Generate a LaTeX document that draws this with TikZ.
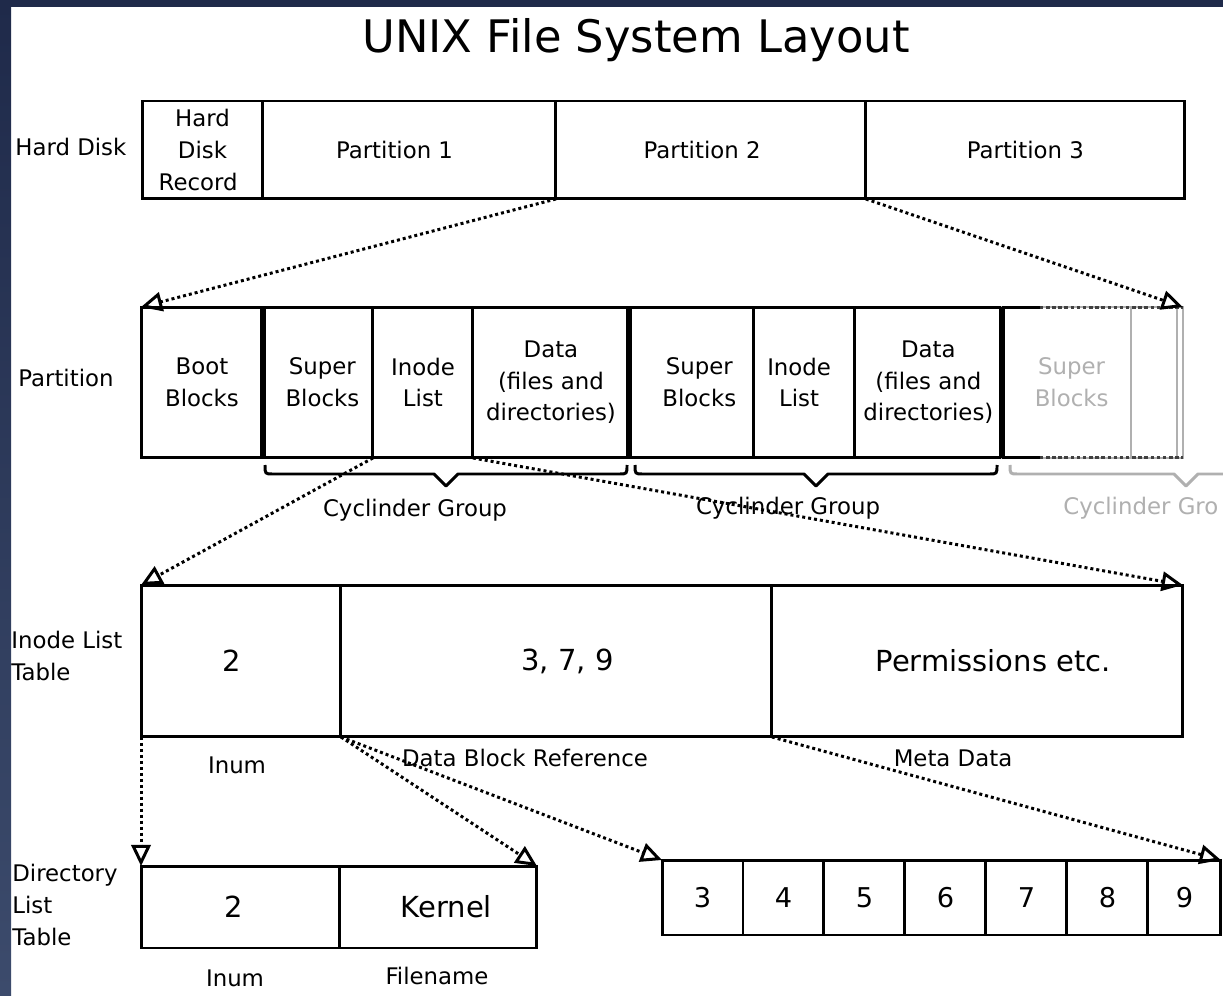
\documentclass[tikz,border=0pt]{standalone}
\usepackage{fontspec}
\setmainfont{DejaVu Sans}
\usetikzlibrary{positioning,arrows.meta,calc}

\definecolor{framedark}{HTML}{1F2A4A}
\definecolor{framelight}{HTML}{3C4B6C}
\definecolor{fadegray}{HTML}{B0B0B0}

\begin{document}
\begin{tikzpicture}[x=0.02cm,y=-0.02cm]

		% Define styles
		\tikzstyle{cell} = [
		rectangle, draw=black, line width=1.7pt, outer sep=0pt,
		inner sep=0pt, align=center, font=\fontsize{13}{18}\selectfont]
		\tikzstyle{diskcell} = [cell, minimum height=1.96cm]
		\tikzstyle{partcell} = [cell, minimum height=3.02cm]
		\tikzstyle{inodecell} = [cell, minimum height=3.04cm,
		font=\fontsize{16.5}{20}\selectfont]
		\tikzstyle{dircell} = [cell, minimum height=1.64cm,
		font=\fontsize{16.5}{20}\selectfont]
		\tikzstyle{blockcell} = [cell, minimum width=1.62cm,
		minimum height=1.5cm, font=\fontsize{15.5}{18}\selectfont]
		\tikzstyle{rowlabel} = [anchor=west, align=left, inner sep=0pt,
		font=\fontsize{13}{18}\selectfont]
		\tikzstyle{caption} = [inner sep=0pt, font=\fontsize{13}{18}\selectfont]
		\tikzstyle{brace} = [line width=1.7pt, line join=round]
		\tikzstyle{pointer} = [line width=1.7pt, dash pattern=on 1.7pt off 1.7pt,
		-{Triangle[open, length=12pt, width=11pt]}]

		% Page and frame
		\useasboundingbox (0,0) rectangle (1223,996);
		\clip (0,0) rectangle (1223,996);
		\fill[white] (0,0) rectangle (1223,996);
		\fill[framedark] (0,0) rectangle (1223,7);
		\shade[top color=framedark, bottom color=framelight] (0,0) rectangle (11,996);

		% Title
		\node (title) [font=\fontsize{25.5}{30}\selectfont] at (636,40) {UNIX File System Layout};

		% Hard disk
		\node (lhd) [rowlabel] at (15,147) {Hard Disk};
		\node (hdr) [diskcell, minimum width=2.42cm] at (202.5,150) {Hard\\Disk\\Record\hspace*{5pt}};
		\node (p1) [diskcell, minimum width=5.86cm, right=0pt of hdr] {Partition 1\hspace*{17pt}};
		\node (p2) [diskcell, minimum width=6.2cm, right=0pt of p1] {Partition 2\hspace*{10pt}};
		\node (p3) [diskcell, minimum width=6.38cm, right=0pt of p2] {Partition 3};

		% Partition
		\node (lpart) [rowlabel] at (18,378) {Partition};
		\node (boot) [partcell, minimum width=2.44cm] at (202,382.5) {Boot\\Blocks};
		\node (sb1) [partcell, minimum width=2.2cm, right=0pt of boot] {\hspace*{5pt}Super\\\hspace*{5pt}Blocks};
		\node (il1) [partcell, minimum width=2.0cm, right=0pt of sb1] {Inode\\List};
		\node (data1) [partcell, minimum width=3.12cm, right=0pt of il1] {Data\\(files and\\directories)};
		\node (sb2) [partcell, minimum width=2.5cm, right=0pt of data1] {\hspace*{9pt}Super\\\hspace*{9pt}Blocks};
		\node (il2) [partcell, minimum width=2.02cm, right=0pt of sb2] {Inode\hspace*{6pt}\\List\hspace*{6pt}};
		\node (data2) [partcell, minimum width=2.94cm, right=0pt of il2] {Data\\(files and\\directories)};
		\node (sb3) [partcell, draw=fadegray, line width=1pt, text=fadegray,
		minimum width=2.58cm, right=0pt of data2] {\hspace*{6pt}Super\\\hspace*{6pt}Blocks};
		\node (rest) [partcell, draw=fadegray, line width=1pt,
		minimum width=1.04cm, right=0pt of sb3] {};

		\draw[line width=3.4pt] (sb1.north west) -- (sb1.south west);
		\draw[line width=3.4pt] (sb2.north west) -- (sb2.south west);
		\draw[line width=3.4pt] (sb3.north west) -- (sb3.south west);
		\draw[fadegray, line width=1pt] ($(rest.north east)+(-6,0)$) -- ($(rest.south east)+(-6,0)$);
		\draw[line width=1.7pt] (sb3.north west) -- ++(38,0);
		\draw[line width=1.7pt] (sb3.south west) -- ++(38,0);
		\draw[line width=1.7pt, black!75, dash pattern=on 2pt off 1.5pt]
		($(sb3.north west)+(38,0)$) -- (rest.north east);
		\draw[line width=1.7pt, black!75, dash pattern=on 2pt off 1.5pt]
		($(sb3.south west)+(38,0)$) -- (rest.south east);

		% Cylinder groups
		\draw[brace] (265,465) .. controls (265,474) .. (273,474) -- (434,474)
		-- (446,486) -- (458,474) -- (619,474) .. controls (627,474) .. (627,465);
		\draw[brace] (635,465) .. controls (635,474) .. (643,474) -- (804,474)
		-- (816,486) -- (828,474) -- (989,474) .. controls (997,474) .. (997,465);
		\draw[brace, fadegray] (1010,465) .. controls (1010,474) .. (1018,474) -- (1174,474)
		-- (1186,486) -- (1198,474) -- (1354,474);
		\node (cg1) [caption] at (415,510) {Cyclinder Group};
		\node (cg2) [caption] at (788,508) {Cyclinder Group};
		\node (cg3) [caption, text=fadegray, anchor=west] at (1063,508) {Cyclinder Gro};

		% Inode list table
		\node (linode) [rowlabel] at (11,656) {Inode List\\Table};
		\node (inum) [inodecell, minimum width=4.0cm] at (241,661) {2\hspace*{10pt}};
		\node (dbr) [inodecell, minimum width=8.62cm, right=0pt of inum] {\hspace*{12.5pt}3, 7, 9};
		\node (meta) [inodecell, minimum width=8.22cm, right=0pt of dbr] {\hspace*{18pt}Permissions etc.};
		\node (cinum) [caption] at (237,765) {Inum};
		\node (cdbr) [caption] at (525,758) {Data Block Reference};
		\node (cmeta) [caption] at (953,758) {Meta Data};

		% Directory list table
		\node (ldir) [rowlabel] at (12,905) {Directory\\List\\Table};
		\node (dinum) [dircell, minimum width=3.98cm] at (240.5,907) {2\hspace*{8pt}};
		\node (fname) [dircell, minimum width=3.94cm, right=0pt of dinum] {\hspace*{9pt}Kernel};
		\node (cdinum) [caption] at (235,978) {Inum};
		\node (cfname) [caption] at (437,976) {Filename};

		% Data blocks
		\node (b3) [blockcell] at (702.5,897.5) {3};
		\node (b4) [blockcell, right=0pt of b3] {4};
		\node (b5) [blockcell, right=0pt of b4] {5};
		\node (b6) [blockcell, right=0pt of b5] {6};
		\node (b7) [blockcell, right=0pt of b6] {7};
		\node (b8) [blockcell, right=0pt of b7] {8};
		\node (b9) [blockcell, minimum width=1.46cm, right=0pt of b8] {9};

		% Arrows
		\draw [pointer] (p2.south west) -- (boot.north west);
		\draw [pointer] (p3.south west) -- (rest.north east);
		\draw [pointer] (il1.south west) -- (inum.north west);
		\draw [pointer] (il1.south east) -- (meta.north east);
		\draw [pointer] (inum.south west) -- (dinum.north west);
		\draw [pointer] (dbr.south west) -- (fname.north east);
		\draw [pointer] (dbr.south west) -- (b3.north west);
		\draw [pointer] (meta.south west) -- (b9.north east);
	\end{tikzpicture}
\end{document}
